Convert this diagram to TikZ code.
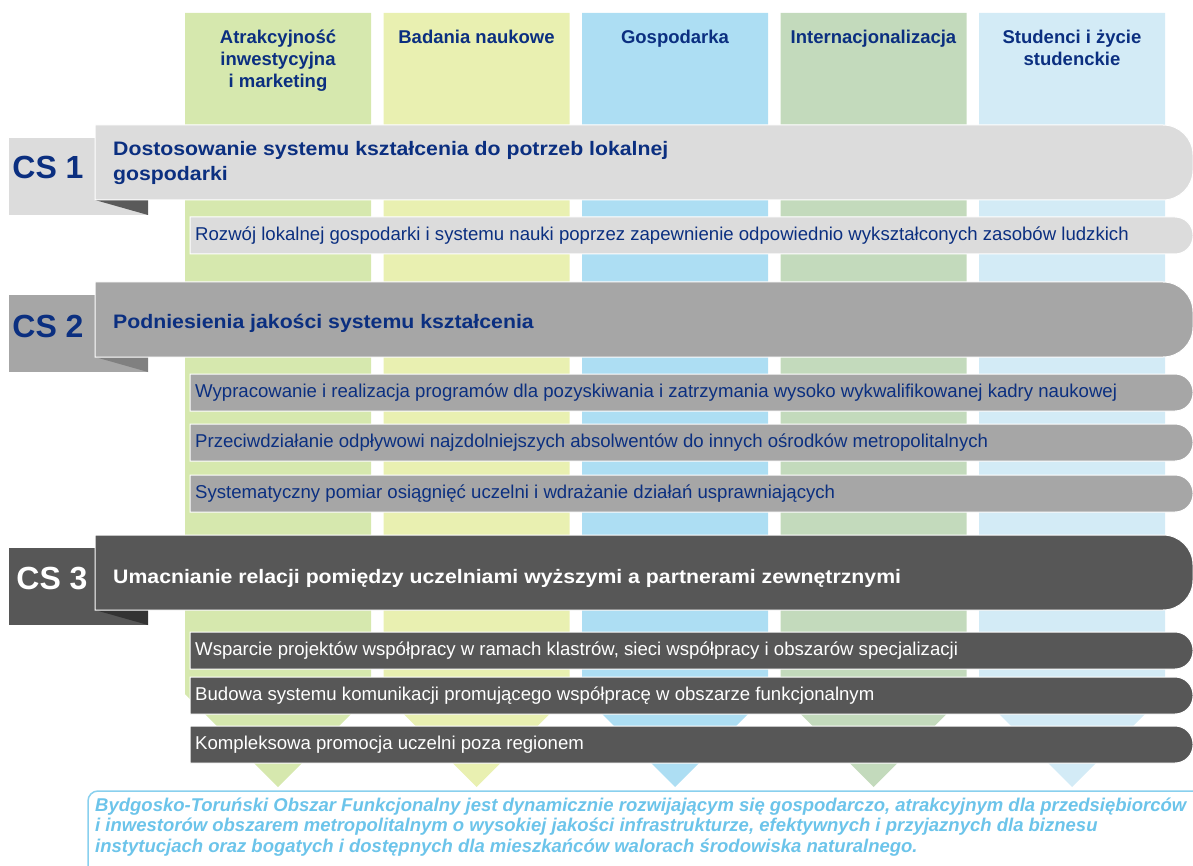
\documentclass[tikz,border=0pt]{standalone}
\usepackage{fontspec}
\setmainfont{Liberation Sans}
\newfontfamily\widesans[FakeStretch=1.09]{Liberation Sans}
\usetikzlibrary{calc,positioning}
\definecolor{navy}{HTML}{0B2F80}
\definecolor{colA}{HTML}{D6E8AE}
\definecolor{colB}{HTML}{E9F0B1}
\definecolor{colC}{HTML}{ADDEF3}
\definecolor{colD}{HTML}{C3DABC}
\definecolor{colE}{HTML}{D3EBF6}
\definecolor{csA}{HTML}{DCDCDC}
\definecolor{csB}{HTML}{A6A6A6}
\definecolor{csC}{HTML}{575757}
\definecolor{foldA}{HTML}{5A5A5A}
\definecolor{foldB}{HTML}{808080}
\definecolor{foldC}{HTML}{333333}
\definecolor{vision}{HTML}{6CC4EA}

\begin{document}
\begin{tikzpicture}[x=1pt,y=-1pt,
    colhead/.style={font=\bfseries\fontsize{18.5}{22}\selectfont,text=navy,align=center,anchor=north,inner sep=0pt},
    cstag/.style={font=\bfseries\fontsize{32}{36}\selectfont,inner sep=0pt},
    cshead/.style={font=\widesans\bfseries\fontsize{19.5}{25}\selectfont,anchor=west,align=left,inner sep=0pt},
    rowtext/.style={font=\fontsize{18.6}{20}\selectfont,anchor=west,inner sep=0pt}]
  \useasboundingbox (0,0) rectangle (1193,866);

  % columns with chevron ends
  \foreach \i/\c/\t in {0/colA/{Atrakcyjność\\inwestycyjna\\i marketing},
      1/colB/{Badania naukowe}, 2/colC/{Gospodarka},
      3/colD/{Internacjonalizacja}, 4/colE/{Studenci i życie\\studenckie}}{
    \fill[\c] (185+198.5*\i,13) -- ++(186,0) -- ++(0,681) -- ++(-93,93) -- ++(-93,-93) -- cycle;
    \node[colhead] (head\i) at (278+198.5*\i,29.5) {\t};
  }

  % strategic goals
  \foreach \n/\t/\f/\d/\k in {1/125/csA/foldA/navy, 2/282/csB/foldB/navy, 3/535/csC/foldC/white}{
    \fill[\f] (9,\t+13) rectangle (148,\t+90);
    \fill[\d] (95,\t+75) -- (148,\t+75) -- (148,\t+90) -- cycle;
    \filldraw[\f,draw=white,line width=1pt] (95,\t) [rounded corners=30] -- (1193,\t) -- (1193,\t+75) [sharp corners] -- (95,\t+75) -- cycle;
  }
  \node[cstag,text=navy] (cs1) at (48,167) {CS 1};
  \node[cstag,text=navy] (cs2) at (48,326) {CS 2};
  \node[cstag,text=white] (cs3) at (52,579) {CS 3};
  \node[cshead,text=navy] (goal1) at (113,163.5) {Dostosowanie systemu kształcenia do potrzeb lokalnej\\gospodarki};
  \node[cshead,text=navy] (goal2) at (113,323) {Podniesienia jakości systemu kształcenia};
  \node[cshead,text=white] (goal3) at (113,578) {Umacnianie relacji pomiędzy uczelniami wyższymi a partnerami zewnętrznymi};

  % operational goals
  \foreach \y/\f/\k/\t [count=\r] in {
      217/csA/navy/{Rozwój lokalnej gospodarki i systemu nauki poprzez zapewnienie odpowiednio wykształconych zasobów ludzkich},
      374/csB/navy/{Wypracowanie i realizacja programów dla pozyskiwania i zatrzymania wysoko wykwalifikowanej kadry naukowej},
      424/csB/navy/{Przeciwdziałanie odpływowi najzdolniejszych absolwentów do innych ośrodków metropolitalnych},
      475/csB/navy/{Systematyczny pomiar osiągnięć uczelni i wdrażanie działań usprawniających},
      632/csC/white/{Wsparcie projektów współpracy w ramach klastrów, sieci współpracy i obszarów specjalizacji},
      677/csC/white/{Budowa systemu komunikacji promującego współpracę w obszarze funkcjonalnym},
      726/csC/white/{Kompleksowa promocja uczelni poza regionem}}{
    \filldraw[\f,draw=white,line width=1pt] (190,\y) [rounded corners=18] -- (1193,\y) -- (1193,\y+37) [sharp corners] -- (190,\y+37) -- cycle;
    \node[rowtext,text=\k] (row\r) at (195,\y+18.5) {\t};
  }

  % vision
  \draw[vision!80,line width=1.5pt,rounded corners=10] (88,791) rectangle (1215,900);
  \node[font=\bfseries\itshape\fontsize{18.5}{20.7}\selectfont,text=vision,align=left,anchor=north west,inner sep=0pt] (vision) at (95,797.5)
    {Bydgosko-Toruński Obszar Funkcjonalny jest dynamicznie rozwijającym się gospodarczo, atrakcyjnym dla przedsiębiorców\\
     i inwestorów obszarem metropolitalnym o wysokiej jakości infrastrukturze, efektywnych i przyjaznych dla biznesu\\
     instytucjach oraz bogatych i dostępnych dla mieszkańców walorach środowiska naturalnego.};
\end{tikzpicture}
\end{document}
